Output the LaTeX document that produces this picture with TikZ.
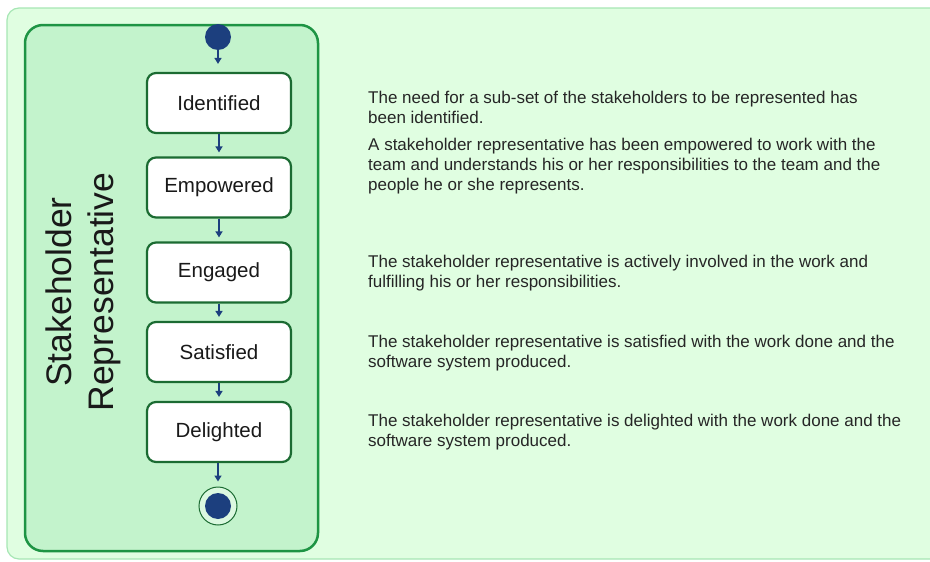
\documentclass[tikz,border=0pt]{standalone}
\usepackage{fontspec}
\setmainfont{Liberation Sans}
\usetikzlibrary{arrows.meta,positioning}
\definecolor{mint}{HTML}{E0FEE1}
\definecolor{edgegreen}{HTML}{A6E6B4}
\definecolor{lanefill}{HTML}{C3F3CC}
\definecolor{lanegreen}{HTML}{1E9444}
\definecolor{boxgreen}{HTML}{1B6B32}
\definecolor{navy}{HTML}{1C3F7E}
\begin{document}
\begin{tikzpicture}[x=1pt,y=-1pt,state/.style={draw=boxgreen,line width=2.2pt,rounded corners=9pt,fill=white,minimum width=144pt,minimum height=60pt,font=\fontsize{20.5}{24}\selectfont,text=black!90},desc/.style={anchor=west,align=left,inner sep=0pt,font=\fontsize{17}{20}\selectfont,text=black!85},arr/.style={-{Triangle[length=6pt,width=7pt]},line width=1.8pt,draw=navy,fill=navy}]
\clip (0,0) rectangle (930,562);
% background and swimlane
\draw[draw=edgegreen,line width=1.2pt,fill=mint,rounded corners=12pt] (7,8) rectangle (960,559);
\draw[draw=lanegreen,line width=2.5pt,fill=lanefill,rounded corners=18pt] (25,25) rectangle (318,551);
\node[rotate=90,align=center,font=\fontsize{35.5}{42}\selectfont,text=black!90] (lane) at (83,292) {Stakeholder\\Representative};
% states
\node[circle,fill=navy,minimum size=26pt,inner sep=0pt] (init) at (218,37) {};
\node[state] (idf) at (219,103) {Identified};
\node[state] (emp) at (219,187.5) {Empowered};
\node[state] (eng) at (219,272.5) {Engaged};
\node[state] (sat) at (219,352) {Satisfied};
\node[state] (del) at (219,432) {Delighted};
\node[circle,draw=boxgreen,line width=1pt,fill=lanefill!60!white,minimum size=38pt,inner sep=0pt] (fin) at (218,506) {};
\node[circle,fill=navy,minimum size=26pt,inner sep=0pt] (findot) at (fin) {};
\draw[arr,shorten >=8pt] (init) -- (init |- idf.north);
\draw[arr,shorten >=4pt] (idf) -- (emp); \draw[arr,shorten >=4pt] (emp) -- (eng);
\draw[arr,shorten >=4pt] (eng) -- (sat); \draw[arr,shorten >=4pt] (sat) -- (del);
\draw[arr,shorten >=5pt] (fin |- del.south) -- (fin);
% descriptions
\node[desc] (didf) at (368,107) {The need for a sub-set of the stakeholders to be represented has\\been identified.};
\node[desc] (demp) at (368,166) {A stakeholder representative has been empowered to work with the\\team and understands his or her responsibilities to the team and the\\people he or she represents.};
\node[desc] (deng) at (368,273.5) {The stakeholder representative is actively involved in the work and\\fulfilling his or her responsibilities.};
\node[desc] (dsat) at (368,353) {The stakeholder representative is satisfied with the work done and the\\software system produced.};
\node[desc] (ddel) at (368,432) {The stakeholder representative is delighted with the work done and the\\software system produced.};
\end{tikzpicture}
\end{document}
